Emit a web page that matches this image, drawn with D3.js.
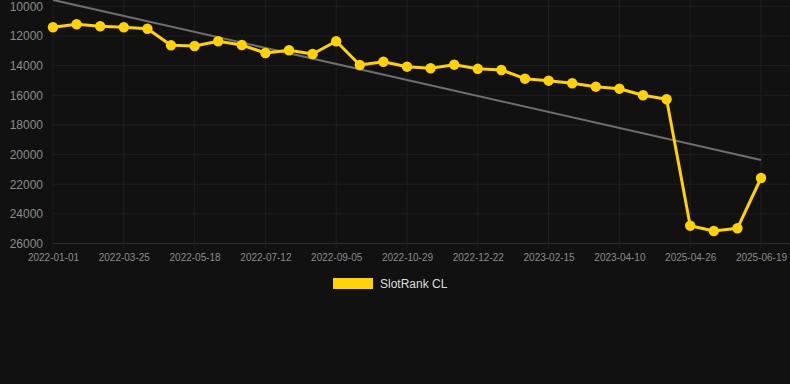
<!DOCTYPE html>
<html><head><meta charset="utf-8">
<script src="https://cdn.jsdelivr.net/npm/d3@7"></script>
<style>html,body{margin:0;padding:0;background:#111111;}svg{display:block;}</style>
</head><body><svg id="c" width="790" height="384"></svg>
<script>
const dates = ["2022-01-01","2022-01-28","2022-02-25","2022-03-25","2022-04-12","2022-04-30","2022-05-18","2022-06-05","2022-06-23","2022-07-12","2022-07-30","2022-08-18","2022-09-05","2022-09-23","2022-10-11","2022-10-29","2022-11-16","2022-12-04","2022-12-22","2023-01-09","2023-01-27","2023-02-15","2023-03-05","2023-03-23","2023-04-10","2023-04-28","2025-04-08","2025-04-26","2025-05-14","2025-06-01","2025-06-19"];
const ranks = [11416,11214,11349,11416,11511,12631,12678,12361,12610,13150,12968,13217,12361,13959,13737,14074,14182,13939,14216,14297,14883,15018,15194,15423,15558,16003,16273,24799,25156,24974,21581];
const trendValues = [9570, 20370];
const yTicks = [10000,12000,14000,16000,18000,20000,22000,24000,26000];
const xTickLabels = ["2022-01-01","2022-03-25","2022-05-18","2022-07-12","2022-09-05","2022-10-29","2022-12-22","2023-02-15","2023-04-10","2025-04-26","2025-06-19"];
const seriesName = "SlotRank CL";

const svg = d3.select("#c");
const W = 790, left = 53, right = 761, gridRight = 790;
const x = d3.scalePoint().domain(dates).range([left, right]);
const y = d3.scaleLinear().domain([10000, 26000]).range([6.3, 243.5]);

// horizontal grid
svg.append("g").selectAll("line").data(yTicks).join("line")
  .attr("x1", left).attr("x2", gridRight)
  .attr("y1", d => y(d)).attr("y2", d => y(d))
  .attr("stroke", d => d === 26000 ? "#2c2c2c" : "#1f1f1f").attr("stroke-width", 1);
// vertical grid
svg.append("g").selectAll("line").data(xTickLabels).join("line")
  .attr("x1", d => x(d)).attr("x2", d => x(d))
  .attr("y1", 0).attr("y2", 248)
  .attr("stroke", "#1f1f1f").attr("stroke-width", 1);

// y axis labels
const yAxis = svg.append("g").attr("transform", `translate(${left - 10},0)`)
  .call(d3.axisLeft(y).tickValues(yTicks).tickSize(0).tickPadding(0).tickFormat(d3.format("d")));
yAxis.select(".domain").remove();
yAxis.selectAll("text").attr("fill", "#8c8c8c").attr("font-family", "Arial, 'Liberation Sans', sans-serif").attr("font-size", 12);

// x axis labels
const xAxis = svg.append("g").attr("transform", `translate(0,243.5)`)
  .call(d3.axisBottom(x).tickValues(xTickLabels).tickSize(0).tickPadding(10));
xAxis.select(".domain").remove();
xAxis.selectAll("text").attr("fill", "#8c8c8c").attr("font-family", "Arial, 'Liberation Sans', sans-serif").attr("font-size", 10);

// trend line
svg.append("line")
  .attr("x1", x(dates[0])).attr("y1", y(trendValues[0]))
  .attr("x2", x(dates[dates.length-1])).attr("y2", y(trendValues[1]))
  .attr("stroke", "#6e6e6e").attr("stroke-width", 2);

// series line
const data = dates.map((d,i)=>({d, v: ranks[i]}));
svg.append("path").datum(data)
  .attr("fill","none").attr("stroke","#FFD200").attr("stroke-width",3).attr("stroke-linejoin","round")
  .attr("d", d3.line().x(p=>x(p.d)).y(p=>y(p.v)));
svg.append("g").selectAll("circle").data(data).join("circle")
  .attr("cx", p=>x(p.d)).attr("cy", p=>y(p.v)).attr("r", 5.2).attr("fill", "#FFD200");

// legend
const lg = svg.append("g");
lg.append("rect").attr("x", 333).attr("y", 278).attr("width", 40).attr("height", 11).attr("fill", "#FFD200");
lg.append("text").attr("x", 380).attr("y", 284).attr("dy", "0.35em").text(seriesName)
  .attr("fill", "#dddddd").attr("font-family", "Arial, 'Liberation Sans', sans-serif").attr("font-size", 12);
</script></body></html>
